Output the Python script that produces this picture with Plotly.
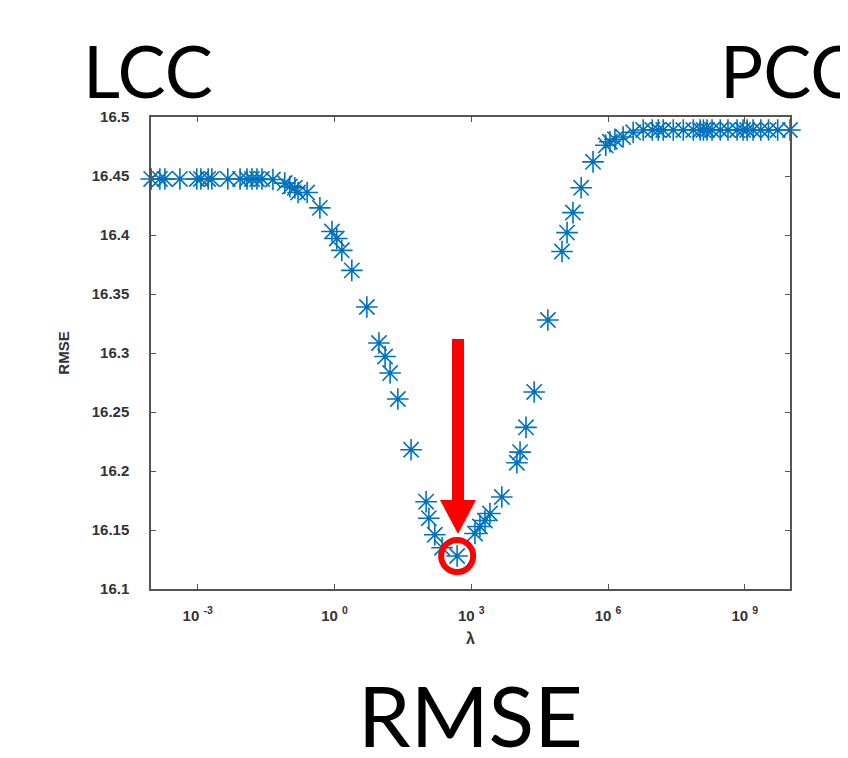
import numpy as np
import plotly.graph_objects as go

lambda_exp = [-4.02, -3.83, -3.72, -3.39, -3.02, -2.93, -2.77, -2.69, -2.34, -2.07,
              -1.92, -1.81, -1.70, -1.59, -1.35, -1.09, -0.98, -0.87, -0.80, -0.60,
              -0.32, -0.055, 0.05, 0.16, 0.38, 0.71, 0.975, 1.11, 1.22, 1.39,
              1.68, 2.01, 2.07, 2.20, 2.36, 2.69, 3.08, 3.19, 3.30, 3.41,
              3.67, 4.00, 4.07, 4.20, 4.38, 4.68, 4.99, 5.10, 5.23, 5.41,
              5.67, 5.95, 6.04, 6.15, 6.33, 6.55, 6.77, 6.97, 7.10, 7.21,
              7.43, 7.65, 7.87, 8.02, 8.09, 8.17, 8.28, 8.46, 8.63, 8.83,
              8.96, 9.05, 9.18, 9.35, 9.52, 9.72, 9.99]
rmse = [16.4475, 16.4475, 16.4475, 16.4475, 16.4475, 16.4475, 16.4475, 16.4475, 16.4475, 16.4475,
        16.4475, 16.4475, 16.4475, 16.4475, 16.447, 16.444, 16.441, 16.440, 16.436, 16.436,
        16.423, 16.403, 16.397, 16.387, 16.370, 16.339, 16.3085, 16.297, 16.283, 16.261,
        16.218, 16.174, 16.160, 16.146, 16.135, 16.128, 16.147, 16.153, 16.158, 16.164,
        16.178, 16.207, 16.216, 16.237, 16.267, 16.328, 16.386, 16.402, 16.419, 16.440,
        16.462, 16.476, 16.479, 16.481, 16.483, 16.487, 16.489, 16.489, 16.489, 16.489,
        16.489, 16.489, 16.489, 16.489, 16.489, 16.489, 16.489, 16.489, 16.489, 16.489,
        16.489, 16.489, 16.489, 16.489, 16.489, 16.489, 16.489]

x_tick_exps = [-3, 0, 3, 6, 9]
y_ticks = [16.1, 16.15, 16.2, 16.25, 16.3, 16.35, 16.4, 16.45, 16.5]
y_tick_labels = ["16.1", "16.15", "16.2", "16.25", "16.3", "16.35", "16.4", "16.45", "16.5"]

lam = [10 ** e for e in lambda_exp]
imin = int(np.argmin(rmse))

# the page body has an 8px margin; size the figure to fill the window after it
OFF = 8
W, H = 848 - OFF, 758 - OFF
L, T = 151 - OFF, 117 - OFF
R, B = W - (790 - OFF), H - (589 - OFF)
pw, ph = W - L - R, H - T - B

def px(x):
    # window pixel -> paper coordinate
    return (x - OFF - L) / pw

def py(y):
    return (H - B - (y - OFF)) / ph

fig = go.Figure()
fig.add_trace(go.Scatter(
    x=lam, y=rmse, mode="markers",
    marker=dict(symbol="asterisk-open", size=18, color="#0072BD",
                line=dict(color="#0072BD", width=1.6)),
    cliponaxis=False, showlegend=False, hoverinfo="skip"))
# red circle around the minimum
fig.add_trace(go.Scatter(
    x=[lam[imin]], y=[rmse[imin]], mode="markers",
    marker=dict(symbol="circle-open", size=32, color="#FF0000",
                line=dict(color="#FF0000", width=6)),
    cliponaxis=False, showlegend=False, hoverinfo="skip"))

tick_font = dict(family="Liberation Sans, Arial", size=15, color="#333333")
axis_common = dict(showline=True, linecolor="#555555", linewidth=1.5, mirror="ticks",
                   ticks="inside", ticklen=5, tickwidth=1.3, tickcolor="#555555",
                   showgrid=False, zeroline=False, tickfont=tick_font)

fig.update_layout(
    width=W, height=H,
    margin=dict(l=L, r=R, t=T, b=B),
    paper_bgcolor="white", plot_bgcolor="white",
    xaxis=dict(type="log", range=[-4.024, 9.99],
               tickvals=[10 ** e for e in x_tick_exps],
               ticktext=["<b>10 <sup>%d</sup></b>" % e for e in x_tick_exps],
               ticklabelstandoff=12,
               title=dict(text="<b>λ</b>", standoff=10,
                          font=dict(family="Liberation Sans, Arial", size=16, color="#333333")),
               **axis_common),
    yaxis=dict(range=[16.1, 16.5], tickvals=y_ticks,
               ticktext=["<b>%s</b>" % t for t in y_tick_labels],
               ticklabelstandoff=17,
               title=dict(text="<b>RMSE</b>", standoff=18,
                          font=dict(family="Liberation Sans, Arial", size=15, color="#333333")),
               **axis_common),
)

big_font = dict(family="Lato, Noto Sans", color="black")
fig.add_annotation(text="LCC", xref="paper", yref="paper", x=px(81), y=py(25),
                   xanchor="left", yanchor="top", showarrow=False,
                   font=dict(size=72, **big_font))
fig.add_annotation(text="PCC", xref="paper", yref="paper", x=px(718), y=py(25),
                   xanchor="left", yanchor="top", showarrow=False,
                   font=dict(size=72, **big_font))
fig.add_annotation(text="RMSE", xref="paper", yref="paper", x=px(470), y=py(662),
                   xanchor="center", yanchor="top", showarrow=False,
                   font=dict(size=84, **big_font))

# red arrow
fig.add_shape(type="rect", xref="paper", yref="paper",
              x0=px(452), x1=px(464), y0=py(339), y1=py(502),
              fillcolor="#FF0000", line=dict(width=0), layer="above")
fig.add_shape(type="path", xref="paper", yref="paper",
              path="M %f,%f L %f,%f L %f,%f Z" % (px(440), py(500), px(476), py(500), px(458), py(534)),
              fillcolor="#FF0000", line=dict(width=0), layer="above")

fig.write_html("out.html")
